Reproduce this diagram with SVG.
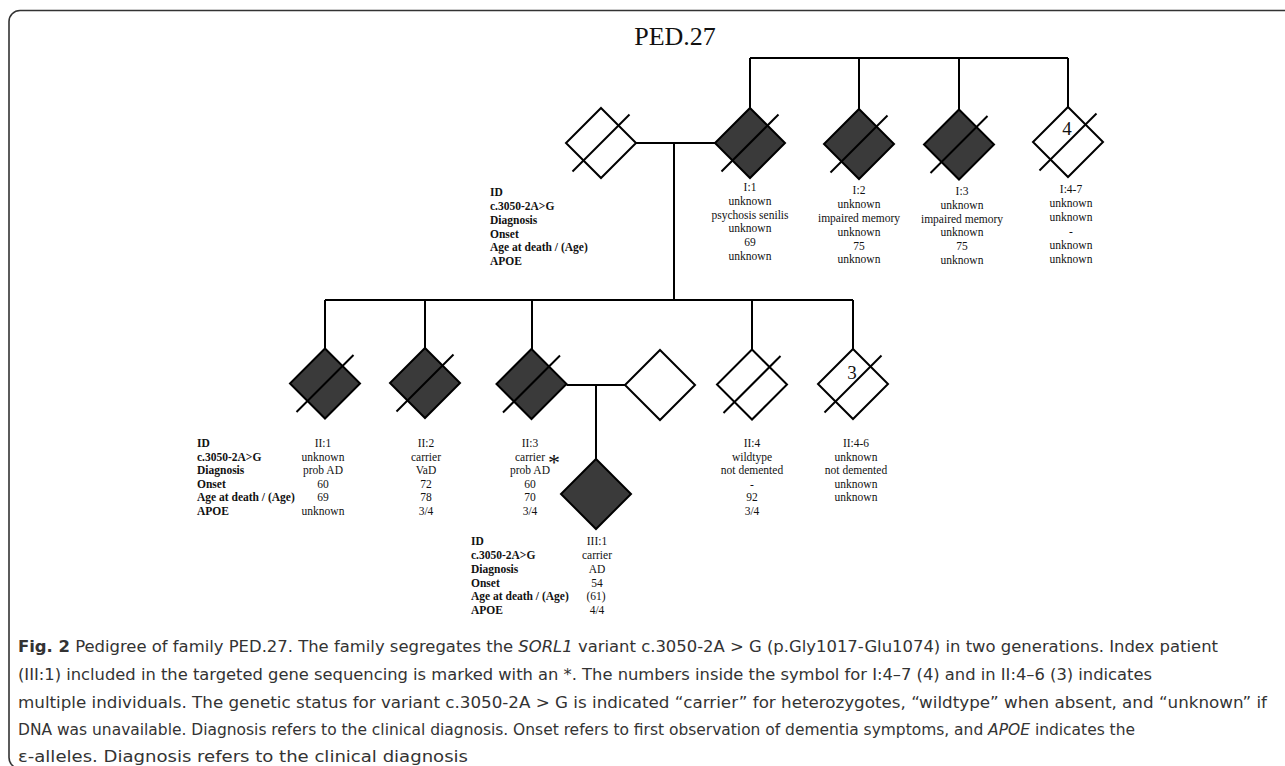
<svg xmlns="http://www.w3.org/2000/svg" width="1285" height="766" viewBox="0 0 1285 766">
<style>
.frame{fill:none;stroke:#333;stroke-width:1.6}
.dia{stroke:#000;stroke-width:2;stroke-linejoin:miter}
.aff{fill:#3a3a3a}
.un{fill:#fff}
.sl{stroke:#000;stroke-width:2}
.ln{stroke:#000;stroke-width:2;fill:none}
.t{font-family:"Liberation Serif","Times New Roman",serif;font-size:11.5px;fill:#111;text-anchor:middle}
.lg{font-family:"Liberation Serif","Times New Roman",serif;font-size:11.5px;font-weight:bold;fill:#111}
.num{font-family:"Liberation Serif","Times New Roman",serif;font-size:19px;fill:#111;text-anchor:middle}
.title{font-family:"Liberation Serif","Times New Roman",serif;font-size:26px;fill:#111;text-anchor:middle}
.cap{font-family:"Liberation Sans Narrow","DejaVu Sans Condensed","Roboto",sans-serif;font-size:16px;fill:#333}
</style>
<rect width="1285" height="766" fill="#fff"/>
<rect class="frame" x="9" y="10.5" width="1300" height="758" rx="11"/>
<text class="title" x="675" y="45">PED.27</text>

<g id="connectors">
<path class="ln" d="M750,58 H1068 M750,58 V108 M859,58 V109 M959,58 V109 M1068,58 V107"/>
<path class="ln" d="M636,143 H715 M674,143 V300"/>
<path class="ln" d="M325,300 H853 M325,300 V348.5 M425,300 V348 M532,300 V349 M752,300 V349.5 M853,300 V349"/>
<path class="ln" d="M566.5,385 H625 M596,385 V459"/>
</g>

<g id="legend-I">
<text class="lg" x="490" y="196">ID</text>
<text class="lg" x="490" y="210">c.3050-2A&gt;G</text>
<text class="lg" x="490" y="224">Diagnosis</text>
<text class="lg" x="490" y="238">Onset</text>
<text class="lg" x="490" y="251">Age at death / (Age)</text>
<text class="lg" x="490" y="265">APOE</text>
</g>

<g id="spouse-I">
<polygon class="dia un" points="601,108 636,143 601,178 566,143"/>
<line class="sl" x1="572.5" y1="171.5" x2="629.5" y2="114.5"/>
</g>

<g id="I1">
<polygon class="dia aff" points="750,108 785,143 750,178 715,143"/>
<line class="sl" x1="721.5" y1="171.5" x2="778.5" y2="114.5"/>
<text class="t" x="750" y="191">I:1</text>
<text class="t" x="750" y="205">unknown</text>
<text class="t" x="750" y="218.5">psychosis senilis</text>
<text class="t" x="750" y="232">unknown</text>
<text class="t" x="750" y="246">69</text>
<text class="t" x="750" y="260">unknown</text>
</g>

<g id="I2">
<polygon class="dia aff" points="859,109 894,144 859,179 824,144"/>
<line class="sl" x1="830.5" y1="172.5" x2="887.5" y2="115.5"/>
<text class="t" x="859" y="194">I:2</text>
<text class="t" x="859" y="208">unknown</text>
<text class="t" x="859" y="222">impaired memory</text>
<text class="t" x="859" y="236">unknown</text>
<text class="t" x="859" y="249.5">75</text>
<text class="t" x="859" y="263">unknown</text>
</g>

<g id="I3">
<polygon class="dia aff" points="959,109.5 994,144.5 959,179.5 924,144.5"/>
<line class="sl" x1="930.5" y1="173" x2="987.5" y2="116"/>
<text class="t" x="962" y="195">I:3</text>
<text class="t" x="962" y="208.5">unknown</text>
<text class="t" x="962" y="222.5">impaired memory</text>
<text class="t" x="962" y="236">unknown</text>
<text class="t" x="962" y="250">75</text>
<text class="t" x="962" y="264">unknown</text>
</g>

<g id="I4-7">
<polygon class="dia un" points="1068,107 1103,142 1068,177 1033,142"/>
<line class="sl" x1="1039.5" y1="170.5" x2="1096.5" y2="113.5"/>
<text class="num" x="1067" y="135">4</text>
<text class="t" x="1071" y="193">I:4-7</text>
<text class="t" x="1071" y="207">unknown</text>
<text class="t" x="1071" y="221">unknown</text>
<text class="t" x="1071" y="235">-</text>
<text class="t" x="1071" y="249">unknown</text>
<text class="t" x="1071" y="262.5">unknown</text>
</g>

<g id="legend-II">
<text class="lg" x="197" y="447">ID</text>
<text class="lg" x="197" y="460.5">c.3050-2A&gt;G</text>
<text class="lg" x="197" y="474">Diagnosis</text>
<text class="lg" x="197" y="487.5">Onset</text>
<text class="lg" x="197" y="501">Age at death / (Age)</text>
<text class="lg" x="197" y="515">APOE</text>
</g>

<g id="II1">
<polygon class="dia aff" points="325,348.5 360,383.5 325,418.5 290,383.5"/>
<line class="sl" x1="296.5" y1="412" x2="353.5" y2="355"/>
<text class="t" x="323" y="447">II:1</text>
<text class="t" x="323" y="460.5">unknown</text>
<text class="t" x="323" y="474">prob AD</text>
<text class="t" x="323" y="487.5">60</text>
<text class="t" x="323" y="501">69</text>
<text class="t" x="323" y="515">unknown</text>
</g>

<g id="II2">
<polygon class="dia aff" points="425,348 460,383 425,418 390,383"/>
<line class="sl" x1="396.5" y1="411.5" x2="453.5" y2="354.5"/>
<text class="t" x="426" y="447">II:2</text>
<text class="t" x="426" y="460.5">carrier</text>
<text class="t" x="426" y="474">VaD</text>
<text class="t" x="426" y="487.5">72</text>
<text class="t" x="426" y="501">78</text>
<text class="t" x="426" y="515">3/4</text>
</g>

<g id="II3">
<polygon class="dia aff" points="531.5,349 566.5,384 531.5,419 496.5,384"/>
<line class="sl" x1="503" y1="412.5" x2="560" y2="355.5"/>
<text class="t" x="530" y="447">II:3</text>
<text class="t" x="530" y="460.5">carrier</text>
<text class="t" x="530" y="474">prob AD</text>
<text class="t" x="530" y="487.5">60</text>
<text class="t" x="530" y="501">70</text>
<text class="t" x="530" y="515">3/4</text>
</g>

<g id="spouse-II">
<polygon class="dia un" points="660,350 695,385 660,420 625,385"/>
</g>

<g id="II4">
<polygon class="dia un" points="752,349.5 787,384.5 752,419.5 717,384.5"/>
<line class="sl" x1="723.5" y1="413" x2="780.5" y2="356"/>
<text class="t" x="752" y="447">II:4</text>
<text class="t" x="752" y="460.5">wildtype</text>
<text class="t" x="752" y="474">not demented</text>
<text class="t" x="752" y="487.5">-</text>
<text class="t" x="752" y="501">92</text>
<text class="t" x="752" y="515">3/4</text>
</g>

<g id="II4-6">
<polygon class="dia un" points="853,349 888,384 853,419 818,384"/>
<line class="sl" x1="824.5" y1="412.5" x2="881.5" y2="355.5"/>
<text class="num" x="852" y="379">3</text>
<text class="t" x="856" y="447">II:4-6</text>
<text class="t" x="856" y="460.5">unknown</text>
<text class="t" x="856" y="474">not demented</text>
<text class="t" x="856" y="487.5">unknown</text>
<text class="t" x="856" y="501">unknown</text>
</g>

<g id="III1">
<polygon class="dia aff" points="596,459 631,494 596,529 561,494"/>
<text class="num" x="554" y="470" style="font-size:24px">*</text>
<text class="lg" x="471" y="545">ID</text>
<text class="lg" x="471" y="559">c.3050-2A&gt;G</text>
<text class="lg" x="471" y="573">Diagnosis</text>
<text class="lg" x="471" y="586.5">Onset</text>
<text class="lg" x="471" y="600">Age at death / (Age)</text>
<text class="lg" x="471" y="614">APOE</text>
<text class="t" x="597" y="545">III:1</text>
<text class="t" x="597" y="559">carrier</text>
<text class="t" x="597" y="573">AD</text>
<text class="t" x="597" y="586.5">54</text>
<text class="t" x="596" y="600">(61)</text>
<text class="t" x="597" y="614">4/4</text>
</g>

<g id="caption">
<text class="cap" x="18" y="652" textLength="1200" lengthAdjust="spacingAndGlyphs"><tspan font-weight="bold">Fig. 2</tspan> Pedigree of family PED.27. The family segregates the <tspan font-style="italic">SORL1</tspan> variant c.3050-2A &gt; G (p.Gly1017-Glu1074) in two generations. Index patient</text>
<text class="cap" x="18" y="680" textLength="1134" lengthAdjust="spacingAndGlyphs">(III:1) included in the targeted gene sequencing is marked with an *. The numbers inside the symbol for I:4–7 (4) and in II:4–6 (3) indicates</text>
<text class="cap" x="18" y="707.5" textLength="1249" lengthAdjust="spacingAndGlyphs">multiple individuals. The genetic status for variant c.3050-2A &gt; G is indicated “carrier” for heterozygotes, “wildtype” when absent, and “unknown” if</text>
<text class="cap" x="18" y="735" textLength="1117" lengthAdjust="spacingAndGlyphs">DNA was unavailable. Diagnosis refers to the clinical diagnosis. Onset refers to first observation of dementia symptoms, and <tspan font-style="italic">APOE</tspan> indicates the</text>
<text class="cap" x="18" y="762" textLength="450" lengthAdjust="spacingAndGlyphs">ε-alleles. Diagnosis refers to the clinical diagnosis</text>
</g>
</svg>
